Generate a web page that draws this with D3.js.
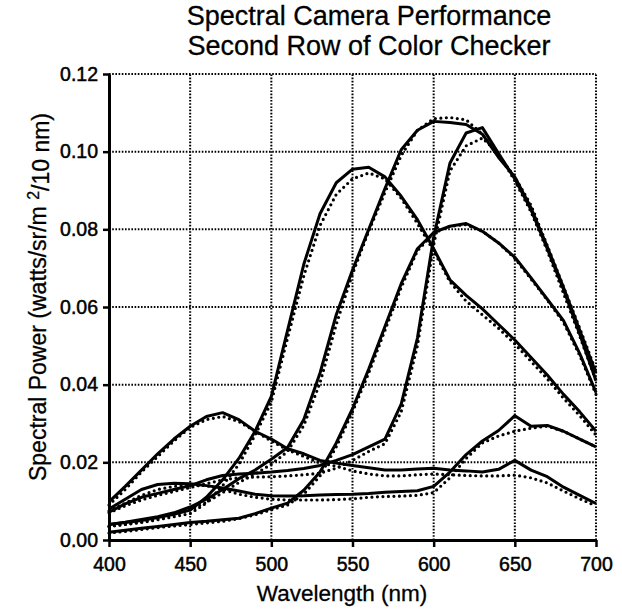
<!DOCTYPE html>
<html><head><meta charset="utf-8">
<script src="https://cdn.jsdelivr.net/npm/d3@7"></script>
<style>body{margin:0;background:#fff}</style>
</head><body>
<svg id="c" width="622" height="616"></svg>
<script>
const wavelengths = [400,410,420,430,440,450,460,470,480,490,500,510,520,530,540,550,560,570,580,590,600,610,620,630,640,650,660,670,680,690,700];
const xTicks = [400,450,500,550,600,650,700];
const yTicks = [0,0.02,0.04,0.06,0.08,0.10,0.12];
const yTickLabels = ["0.00","0.02","0.04","0.06","0.08","0.10","0.12"];

// measured (solid)
const purplishBlue = [0.0098,0.0138,0.018,0.0222,0.026,0.0293,0.0318,0.0328,0.031,0.028,0.026,0.0235,0.0222,0.0205,0.0198,0.0192,0.0186,0.018,0.018,0.0183,0.0185,0.018,0.0178,0.0175,0.0182,0.0205,0.018,0.0163,0.0136,0.0115,0.0094];
const yellowGreen = [0.004,0.0045,0.005,0.0058,0.0066,0.0077,0.011,0.0155,0.021,0.028,0.037,0.054,0.071,0.084,0.092,0.0955,0.096,0.0935,0.0885,0.0825,0.075,0.067,0.063,0.0595,0.0555,0.0515,0.047,0.0425,0.0375,0.033,0.028];
const orangeYellow = [0.004,0.0046,0.0053,0.006,0.007,0.0085,0.0105,0.013,0.0158,0.018,0.0208,0.0238,0.031,0.043,0.058,0.0695,0.080,0.0905,0.1005,0.1055,0.1078,0.1075,0.107,0.1045,0.0985,0.0935,0.0855,0.0755,0.065,0.054,0.043];
const orange = [0.0072,0.0093,0.011,0.012,0.013,0.014,0.0155,0.0166,0.017,0.0172,0.0175,0.0179,0.0184,0.0192,0.0205,0.022,0.024,0.026,0.035,0.052,0.078,0.097,0.1048,0.1062,0.0995,0.093,0.085,0.075,0.0645,0.053,0.041];
const moderateRed = [0.002,0.0025,0.003,0.0035,0.004,0.0045,0.0048,0.0052,0.0056,0.0068,0.0082,0.0095,0.0128,0.0175,0.025,0.0338,0.044,0.055,0.066,0.075,0.0792,0.0808,0.0815,0.0795,0.0765,0.0728,0.0675,0.062,0.0565,0.048,0.038];
const purple = [0.008,0.0105,0.013,0.0143,0.0146,0.0145,0.014,0.0134,0.0126,0.0118,0.0114,0.0113,0.0114,0.0116,0.0117,0.0118,0.012,0.0123,0.0125,0.0127,0.0138,0.0175,0.022,0.0255,0.0282,0.032,0.0293,0.0295,0.028,0.026,0.024];

// camera estimates (dotted)
const purplishBlueEst = [0.009,0.013,0.0175,0.0215,0.0255,0.029,0.031,0.0318,0.0305,0.028,0.0255,0.0232,0.0215,0.0198,0.019,0.0178,0.017,0.0165,0.0165,0.0168,0.017,0.0168,0.0166,0.0165,0.0165,0.0167,0.016,0.0147,0.0126,0.0106,0.0088];
const yellowGreenEst = [0.0035,0.004,0.0045,0.0052,0.006,0.0068,0.0095,0.014,0.0195,0.027,0.0355,0.052,0.068,0.081,0.089,0.093,0.0945,0.093,0.088,0.0815,0.0745,0.0665,0.0615,0.058,0.0545,0.0505,0.046,0.0415,0.0365,0.032,0.027];
const orangeYellowEst = [0.0035,0.004,0.0047,0.0055,0.0065,0.0078,0.0097,0.0122,0.0148,0.017,0.0195,0.0228,0.0295,0.0405,0.0555,0.0685,0.0795,0.0895,0.099,0.1055,0.1085,0.1088,0.1082,0.1045,0.099,0.0935,0.0862,0.0758,0.0652,0.0545,0.0435];
const orangeEst = [0.007,0.0088,0.0103,0.0115,0.0125,0.0135,0.0145,0.0155,0.016,0.0162,0.0163,0.0165,0.0168,0.0172,0.0185,0.0205,0.0228,0.0248,0.033,0.050,0.076,0.095,0.1015,0.1035,0.0995,0.0925,0.0845,0.0745,0.0635,0.0525,0.041];
const moderateRedEst = [0.0018,0.0022,0.0027,0.0032,0.0036,0.004,0.0044,0.0048,0.0055,0.0065,0.0078,0.009,0.0118,0.0165,0.024,0.033,0.043,0.054,0.065,0.0745,0.079,0.0808,0.0812,0.0795,0.0765,0.0725,0.0672,0.0618,0.056,0.0475,0.0375];
const purpleEst = [0.0075,0.0095,0.0115,0.013,0.0138,0.0142,0.014,0.013,0.0118,0.011,0.0105,0.0103,0.0103,0.0103,0.0104,0.0106,0.011,0.0112,0.0113,0.0115,0.0122,0.016,0.021,0.025,0.0268,0.028,0.0288,0.0293,0.028,0.026,0.024];

const measured = [purplishBlue, yellowGreen, orangeYellow, orange, moderateRed, purple];
const estimated = [purplishBlueEst, yellowGreenEst, orangeYellowEst, orangeEst, moderateRedEst, purpleEst];

const FONT = '"Liberation Sans", Arial, Helvetica, sans-serif';
const svg = d3.select('#c');
const x = d3.scaleLinear().domain([400,700]).range([109,596]);
const y = d3.scaleLinear().domain([0,0.12]).range([540,74]);

// grid (dotted)
const grid = svg.append('g').attr('stroke','#000').attr('stroke-width',2).attr('stroke-dasharray','1.6,1.6').attr('fill','none');
grid.selectAll('line.v').data(xTicks.slice(1)).join('line').attr('class','v')
  .attr('x1',d=>x(d)).attr('x2',d=>x(d)).attr('y1',y(0)).attr('y2',y(0.12));
grid.selectAll('line.h').data(yTicks.slice(1)).join('line').attr('class','h')
  .attr('x1',x(400)).attr('x2',x(700)).attr('y1',d=>y(d)).attr('y2',d=>y(d));

const line = d3.line().x((d,i)=>x(wavelengths[i])).y(d=>y(d));

svg.append('g').selectAll('path').data(estimated).join('path')
  .attr('d',line).attr('fill','none').attr('stroke','#000').attr('stroke-width',3.2)
  .attr('stroke-linecap','round').attr('stroke-dasharray','0,5.5');

svg.append('g').selectAll('path').data(measured).join('path')
  .attr('d',line).attr('fill','none').attr('stroke','#000').attr('stroke-width',3)
  .attr('stroke-linejoin','round');

// axes
const xAxis = svg.append('g').attr('transform',`translate(0,${y(0)})`)
  .call(d3.axisBottom(x).tickValues(xTicks).tickSize(7).tickSizeOuter(0).tickPadding(10));
const yAxis = svg.append('g').attr('transform',`translate(${x(400)},0)`)
  .call(d3.axisLeft(y).tickValues(yTicks).tickFormat((d,i)=>yTickLabels[i]).tickSize(6).tickSizeOuter(0).tickPadding(5));
[xAxis,yAxis].forEach(g=>{
  g.select('.domain').attr('stroke','#000').attr('stroke-width',3);
  g.selectAll('.tick line').attr('stroke','#000').attr('stroke-width',2.5);
  g.selectAll('.tick text').attr('fill','#000').attr('stroke','#000').attr('stroke-width',0.5)
    .style('font-family',FONT).style('font-size','19.5px');
});

// titles
const titleFont = {family: FONT, size: '27px'};
svg.append('text').attr('x',369).attr('y',24.5).attr('text-anchor','middle')
  .style('font-family',titleFont.family).style('font-size',titleFont.size)
  .attr('stroke','#000').attr('stroke-width',0.3).text('Spectral Camera Performance');
svg.append('text').attr('x',369).attr('y',55).attr('text-anchor','middle')
  .style('font-family',titleFont.family).style('font-size',titleFont.size)
  .attr('stroke','#000').attr('stroke-width',0.3).text('Second Row of Color Checker');

svg.append('text').attr('x',342).attr('y',601).attr('text-anchor','middle')
  .attr('stroke','#000').attr('stroke-width',0.3)
  .style('font-family',FONT).style('font-size','22.5px').text('Wavelength (nm)');

const yl = svg.append('text').attr('transform','translate(46,297) rotate(-90)').attr('text-anchor','middle')
  .attr('stroke','#000').attr('stroke-width',0.3)
  .style('font-family',FONT).style('font-size','23px');
yl.append('tspan').text('Spectral Power (watts/sr/m ');
yl.append('tspan').attr('dy','-0.45em').style('font-size','16px').text('2');
yl.append('tspan').attr('dy','0.45em').text('/10 nm)');
</script>
</body></html>
